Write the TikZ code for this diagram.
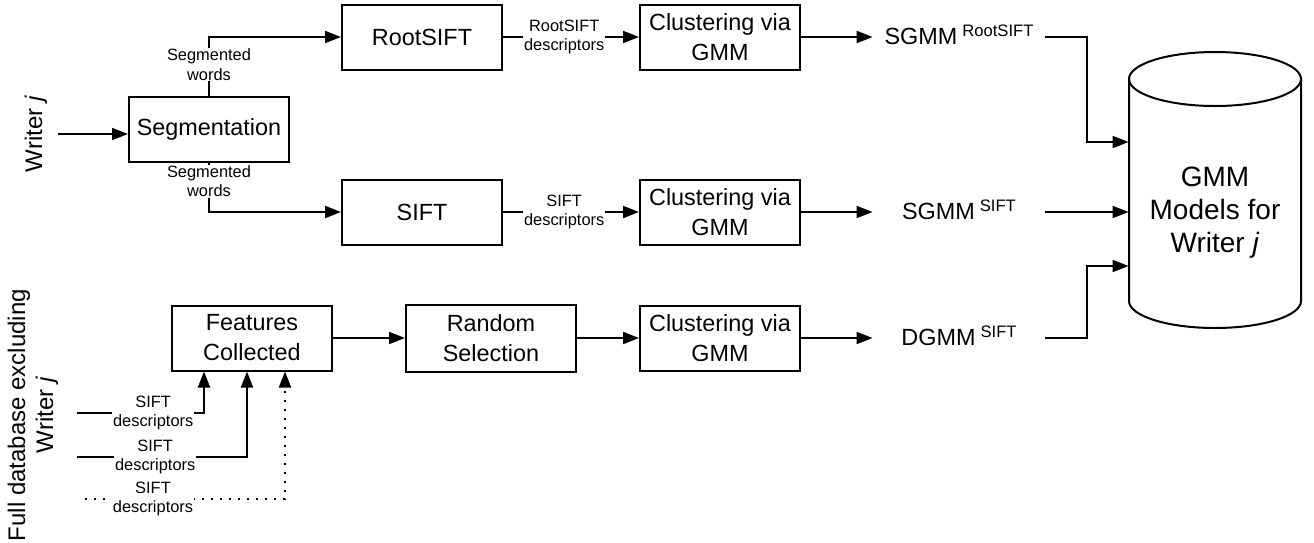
\documentclass[tikz,border=0pt]{standalone}
\usepackage{fontspec}
\setmainfont{Liberation Sans}
\usetikzlibrary{arrows.meta,calc}
\newcommand{\dgBox}{\fontsize{11.7}{15}\selectfont}
\newcommand{\dgSmall}{\fontsize{8.2}{9.7}\selectfont}
\newcommand{\dgBig}{\fontsize{14}{16.5}\selectfont}
\newcommand{\dgMid}{\fontsize{12}{14}\selectfont}
\newcommand{\dgSup}[1]{\raisebox{3.7pt}{\fontsize{8.3}{9}\selectfont #1}}
\tikzset{
  box/.style={draw, line width=1pt, minimum width=80pt, minimum height=32.5pt, align=center, font=\dgBox, inner sep=1pt},
  ln/.style={line width=1pt},
  arr/.style={line width=1pt, -{Triangle[length=8pt,width=6pt]}},
  lbl/.style={fill=white, align=center, font=\dgSmall, inner sep=0.5pt},
  outl/.style={minimum width=86pt, text height=7pt, text depth=0pt, inner sep=0pt, font=\dgBox},
  dots/.style={dash pattern=on 1pt off 3.5pt},
}
\begin{document}
\begin{tikzpicture}[x=0.5pt,y=-0.5pt]
\useasboundingbox (0,0) rectangle (1314,542);
% left labels
\node[rotate=90, font=\dgMid] (writer) at (36,134) {Writer \textit{j}};
\node[rotate=90, font=\dgMid, align=center] (fulldb) at (33,415) {Full database excluding\\Writer \textit{j}};
% boxes
\node[box] (seg) at (209,129) {Segmentation};
\node[box] (root) at (422,37) {RootSIFT};
\node[box] (sift) at (422,212) {SIFT};
\node[box] (cl1) at (720,37) {Clustering via\\GMM};
\node[box] (cl2) at (720,212) {Clustering via\\GMM};
\node[box] (feat) at (252,338) {Features\\Collected};
\node[box, minimum width=85pt, minimum height=33.5pt] (rand) at (491,338) {Random\\Selection};
\node[box] (cl3) at (720,338) {Clustering via\\GMM};
% outputs
\node[outl] (out1) at (959,37) {SGMM\hspace{2.5pt}\dgSup{RootSIFT}};
\node[outl] (out2) at (959,212) {SGMM\hspace{2.5pt}\dgSup{SIFT}};
\node[outl] (out3) at (959,338) {DGMM\hspace{2.5pt}\dgSup{SIFT}};
% cylinder
\draw[ln] (1129,79) -- (1129,301) arc[start angle=180, end angle=360, x radius=43pt, y radius=13.5pt] -- (1301,79);
\draw[ln] (1215,79) ellipse[x radius=43pt, y radius=13.5pt];
\node[minimum width=86pt, minimum height=138pt, inner sep=0pt] (db) at (1215,190) {};
\node[font=\dgBig, align=center] (dbt) at (1215,213) {GMM\\Models for\\Writer \textit{j}};
% connectors
\coordinate (win) at (58,134);
\draw[arr] (win) -- (seg.west |- win);
\draw[arr] (seg.north) -- node[lbl, pos=0.53] {Segmented\\words} (seg.north |- root.west) -- (root.west);
\draw[arr] (seg.south) -- node[lbl, pos=0.38] {Segmented\\words} (seg.south |- sift.west) -- (sift.west);
\draw[arr] (root.east) -- node[lbl, pos=0.45] {RootSIFT\\descriptors} (cl1.west);
\draw[arr] (sift.east) -- node[lbl, pos=0.45] {SIFT\\descriptors} (cl2.west);
\draw[arr] (feat.east) -- (rand.west);
\draw[arr] (rand.east) -- (cl3.west);
\draw[arr] (cl1.east) -- (out1.west);
\draw[arr] (cl2.east) -- (out2.west);
\draw[arr] (cl3.east) -- (out3.west);
\draw[arr] (out1.east) -- ++(42,0) |- (db.west |- 0,142);
\draw[arr] (out2.east) -- (db.west |- out2.east);
\draw[arr] (out3.east) -- ++(42,0) |- (db.west |- 0,266);
% bottom-left inputs
\coordinate (s1) at (77,413);
\coordinate (s2) at (77,457);
\coordinate (s3) at (85,499);
\coordinate (f1) at ([xshift=-24pt]feat.south);
\coordinate (f2) at ([xshift=-2.5pt]feat.south);
\coordinate (f3) at ([xshift=16.5pt]feat.south);
\draw[arr] (s1) -- node[lbl, pos=0.6] {SIFT\\descriptors} (s1 -| f1) -- (f1);
\draw[arr] (s2) -- node[lbl, pos=0.46] {SIFT\\descriptors} (s2 -| f2) -- (f2);
\draw[arr, dots] (s3) -- node[lbl, pos=0.34] {SIFT\\descriptors} (s3 -| f3) -- (f3);
\end{tikzpicture}
\end{document}
